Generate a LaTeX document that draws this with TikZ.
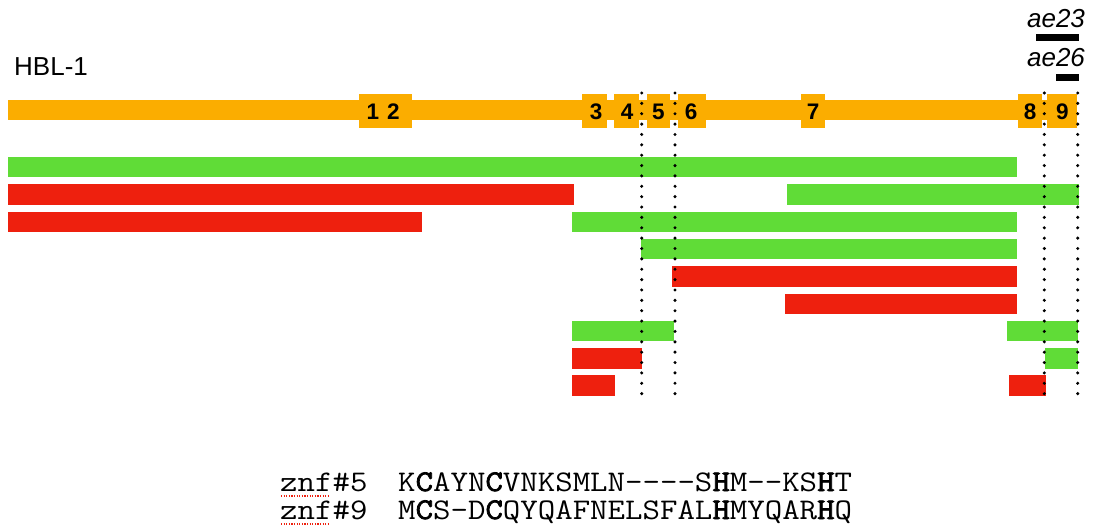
\documentclass[tikz,border=0pt]{standalone}
\usepackage{fontspec}
\setmainfont{Liberation Sans}
\newfontfamily\seqfont[FakeStretch=1.13,Ligatures=TeXOff]{Latin Modern Mono}
\newfontfamily\seqbold[FakeStretch=1.13,FakeBold=2.5,Ligatures=TeXOff]{Latin Modern Mono}

\definecolor{exonorange}{RGB}{251,173,0}
\definecolor{hitgreen}{RGB}{96,220,55}
\definecolor{missred}{RGB}{238,32,14}

\tikzset{
  genebar/.style={fill=exonorange},
  rescue/.style={fill=hitgreen},
  norescue/.style={fill=missred},
  guide/.style={line width=3.4pt, line cap=round, dash pattern=on 0pt off 10.367pt},
  exnum/.style={font=\fontsize{22.5}{24}\selectfont\bfseries, inner sep=0, anchor=base},
  allele/.style={font=\fontsize{26}{28}\selectfont\itshape, inner sep=0, anchor=base},
  seqtext/.style={font=\fontsize{30}{32}\seqfont, inner sep=0, anchor=base west},
  spell/.style={draw=missred, line width=1.3pt, dash pattern=on 1.2pt off 1.4pt}
}

\begin{document}
\begin{tikzpicture}[x=1pt,y=-1pt]
\useasboundingbox (0,0) rectangle (1095,525);

% gene model: backbone and zinc-finger exons
\fill[genebar] (8,100) rectangle (1077.3,120);
\foreach \a/\b in {359/412, 582.3/606.7, 614.3/639.3, 646.7/670, 678.3/706,
                   801/825.3, 1017.7/1042.3, 1047.3/1077.3}
  \fill[genebar] (\a,94) rectangle (\b,127.5);

\node[exnum] (e1) at (373,119) {1};
\node[exnum] (e2) at (393.5,119) {2};
\node[exnum] (e3) at (596,119) {3};
\node[exnum] (e4) at (627,119) {4};
\node[exnum] (e5) at (658.4,119) {5};
\node[exnum] (e6) at (691,119) {6};
\node[exnum] (e7) at (813.2,119) {7};
\node[exnum] (e8) at (1030,119) {8};
\node[exnum] (e9) at (1062.3,119) {9};

\node[anchor=base west, inner sep=0, font=\fontsize{26}{30}\selectfont] (gene) at (14,75) {HBL-1};

% allele extents
\node[allele] (a23) at (1056,27.7) {ae23};
\fill (1035.7,34.3) rectangle (1079,41.3);
\node[allele] (a26) at (1056,66.7) {ae26};
\fill (1056.3,74.3) rectangle (1079,81.3);

% construct rows: start/end/row/outcome
\foreach \a/\b/\r/\s in {
    8/1017/1/rescue,
    8/574/2/norescue, 787/1079/2/rescue,
    8/422.3/3/norescue, 572/1017/3/rescue,
    641/1017/4/rescue,
    671.5/1017/5/norescue,
    785/1017/6/norescue,
    571.5/674/7/rescue, 1007/1077.7/7/rescue,
    571.5/642/8/norescue, 1044.5/1077.7/8/rescue,
    571.5/615/9/norescue, 1008.7/1046/9/norescue}
  \fill[\s] (\a,{157+(\r-1)*27.3}) rectangle (\b,{177.4+(\r-1)*27.3});

% dotted guides through the zinc-finger boundaries
\foreach \x in {641.7, 675, 1044.3, 1077.7}
  \draw[guide] (\x,93) -- (\x,404);

% aligned zinc-finger sequences
\node[seqtext] (z5) at (280,491) {znf\#5};
\node[seqtext] (s5) at (398,491) {K{\seqbold C}AYN{\seqbold C}VNKSMLN----S{\seqbold H}M--KS{\seqbold H}T};
\node[seqtext] (z9) at (280,519) {znf\#9};
\node[seqtext] (s9) at (398,519) {M{\seqbold C}S-D{\seqbold C}QYQAFNELSFAL{\seqbold H}MYQAR{\seqbold H}Q};

\draw[spell] (281,496) -- (328,496);
\draw[spell] (281,524) -- (328,524);
\end{tikzpicture}
\end{document}
